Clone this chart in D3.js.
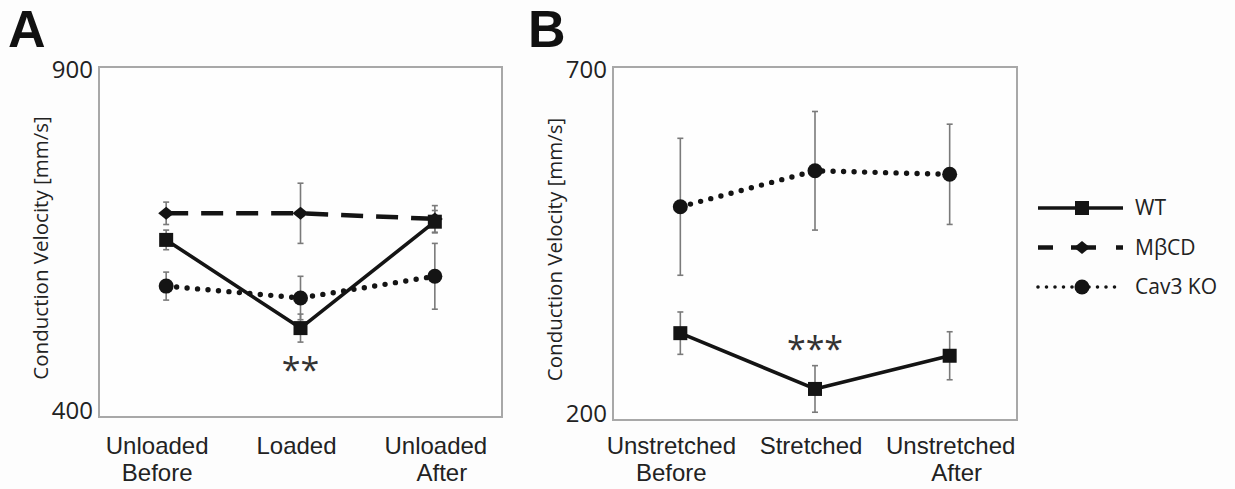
<!DOCTYPE html>
<html>
<head>
<meta charset="utf-8">
<script src="https://cdn.jsdelivr.net/npm/d3@7"></script>
<style>
  html, body { margin: 0; padding: 0; background: #fdfdfd; }
  svg { display: block; }
</style>
</head>
<body>
<svg id="chart" width="1235" height="489"></svg>
<script>
// ---------- data ----------
const categoriesA = [["Unloaded", "Before"], ["Loaded"], ["Unloaded", "After"]];
const categoriesB = [["Unstretched", "Before"], ["Stretched"], ["Unstretched", "After"]];
const yTicksA = [400, 900];
const yTicksB = [200, 700];

const wtA = [653, 527, 679];
const wtAErr = [14, 20, 16];
const mbcdA = [691, 691, 683];
const mbcdAErr = [16, 43, 19];
const cavA = [587, 570, 601];
const cavAErr = [20, 31, 47];

const wtB = [323, 244, 291];
const wtBErr = [30, 33, 34];
const cavB = [502, 553, 548];
const cavBErr = [97, 84, 71];

const seriesNames = ["WT", "M\u03B2CD", "Cav3 KO"];
const starsA = { cat: 1, text: "**", value: 450 };
const starsB = { cat: 1, text: "***", value: 284 };

// ---------- styles ----------
const styles = {
  "WT":      { dash: null,        width: 3.6, marker: "square" },
  "M\u03B2CD": { dash: "22,13",    width: 4.5, marker: "diamond" },
  "Cav3 KO": { dash: "0,10.5",    width: 5.4, marker: "circle" }
};

const svg = d3.select("#chart");
const ink = "#141414";
const sansMy = "'Open Sans', 'Noto Sans', sans-serif";
const sansHelv = "'Liberation Sans', Arial, sans-serif";

function marker(g, type, x, y) {
  if (type === "square") {
    g.append("rect").attr("x", x - 7).attr("y", y - 7).attr("width", 14).attr("height", 14).attr("fill", ink);
  } else if (type === "circle") {
    g.append("circle").attr("cx", x).attr("cy", y).attr("r", 7.5).attr("fill", ink);
  } else {
    g.append("path").attr("d", `M${x - 8},${y} L${x},${y - 6.5} L${x + 8},${y} L${x},${y + 6.5} Z`).attr("fill", ink);
  }
}

function panel(opts) {
  const { left, right, top, bottom, cats, domain, ticks, series, stars, letter, letterX } = opts;
  const g = svg.append("g");
  const x = d3.scaleBand().domain(d3.range(cats.length)).range([left, right]).padding(0);
  const y = d3.scaleLinear().domain(domain).range([bottom, top]);
  const cx = i => x(i) + x.bandwidth() / 2;

  // frame
  g.append("rect").attr("x", left).attr("y", top).attr("width", right - left).attr("height", bottom - top)
    .attr("fill", "#fefefe").attr("stroke", "#a8a8a8").attr("stroke-width", 2);

  // y axis with tick labels only at ends
  const yAxis = d3.axisLeft(y).tickValues(ticks).tickSize(0).tickPadding(6);
  const ya = g.append("g").attr("transform", `translate(${left},0)`).call(yAxis)
    .attr("font-size", null).attr("font-family", null);
  ya.select(".domain").remove();
  ya.selectAll("text").style("font-family", sansMy).style("font-size", "24px").attr("fill", "#222")
    .attr("dy", (d, i) => i === 0 ? "0.05em" : "0.45em");

  // x labels (slightly spread, as in the original)
  const xl = g.append("g");
  cats.forEach((lines, i) => {
    const lx = cx(i) + (i - 1) * 5 - 4;
    const t = xl.append("text").attr("x", lx).attr("y", 454)
      .attr("text-anchor", "middle").attr("font-family", sansHelv).attr("font-size", 24).attr("fill", "#222");
    lines.forEach((ln, k) => t.append("tspan").attr("x", lx + (k === 1 && i === 2 ? 6 : 0)).attr("dy", k === 0 ? 0 : 27).text(ln));
  });

  // axis title
  g.append("text").attr("transform", `translate(${left - 51},${(top + bottom) / 2 + 6}) rotate(-90)`)
    .attr("text-anchor", "middle").attr("font-family", sansMy).attr("font-size", 20.5).attr("fill", "#222")
    .text("Conduction Velocity [mm/s]");

  // letter
  svg.append("text").attr("x", letterX).attr("y", 47).attr("font-family", sansHelv).attr("font-weight", "bold")
    .attr("font-size", 52).attr("fill", "#111").text(letter);

  // error bars
  series.forEach(s => {
    s.values.forEach((v, i) => {
      const e = s.errs[i];
      const eg = g.append("g").attr("stroke", "#7a7a7a").attr("stroke-width", 1.6);
      eg.append("line").attr("x1", cx(i)).attr("x2", cx(i)).attr("y1", y(v - e)).attr("y2", y(v + e));
      eg.append("line").attr("x1", cx(i) - 3).attr("x2", cx(i) + 3).attr("y1", y(v - e)).attr("y2", y(v - e));
      eg.append("line").attr("x1", cx(i) - 3).attr("x2", cx(i) + 3).attr("y1", y(v + e)).attr("y2", y(v + e));
    });
  });

  // lines
  const line = d3.line().x((d, i) => cx(i)).y(d => y(d));
  series.forEach(s => {
    const st = styles[s.name];
    const p = g.append("path").datum(s.values).attr("d", line).attr("fill", "none").attr("stroke", ink)
      .attr("stroke-width", st.width).attr("stroke-linejoin", "round");
    if (st.dash) p.attr("stroke-dasharray", st.dash).attr("stroke-linecap", s.name === "Cav3 KO" ? "round" : "butt");
  });

  // markers
  series.forEach(s => {
    s.values.forEach((v, i) => marker(g, styles[s.name].marker, cx(i), y(v)));
  });

  // significance stars
  g.append("text").attr("x", cx(stars.cat)).attr("y", y(stars.value)).attr("text-anchor", "middle")
    .attr("font-family", sansMy).attr("font-size", 34).attr("fill", "#333").text(stars.text);
}

panel({
  left: 99, right: 502, top: 67, bottom: 417,
  cats: categoriesA, domain: [400, 900], ticks: yTicksA,
  series: [
    { name: "M\u03B2CD", values: mbcdA, errs: mbcdAErr },
    { name: "Cav3 KO", values: cavA, errs: cavAErr },
    { name: "WT", values: wtA, errs: wtAErr }
  ],
  stars: starsA, letter: "A", letterX: 8
});

panel({
  left: 613, right: 1017, top: 67, bottom: 420,
  cats: categoriesB, domain: [200, 700], ticks: yTicksB,
  series: [
    { name: "Cav3 KO", values: cavB, errs: cavBErr },
    { name: "WT", values: wtB, errs: wtBErr }
  ],
  stars: starsB, letter: "B", letterX: 528
});

// ---------- legend ----------
const legend = svg.append("g");
const legY = d3.scalePoint().domain(seriesNames).range([208, 287]);
const legendDash = { "WT": null, "M\u03B2CD": "15,18,25,20,12", "Cav3 KO": "0,8.5" };
seriesNames.forEach(n => {
  const yy = legY(n);
  const st = styles[n];
  const l = legend.append("line").attr("x1", 1038).attr("x2", 1123).attr("y1", yy).attr("y2", yy)
    .attr("stroke", ink).attr("stroke-width", n === "Cav3 KO" ? 3.6 : st.width);
  if (legendDash[n]) l.attr("stroke-dasharray", legendDash[n]).attr("stroke-linecap", n === "Cav3 KO" ? "round" : "butt");
  marker(legend, st.marker, 1082, yy);
  legend.append("text").attr("x", 1135).attr("y", yy + 7).attr("font-family", sansMy).attr("font-size", 21)
    .attr("fill", "#222").text(n);
});
</script>
</body>
</html>
